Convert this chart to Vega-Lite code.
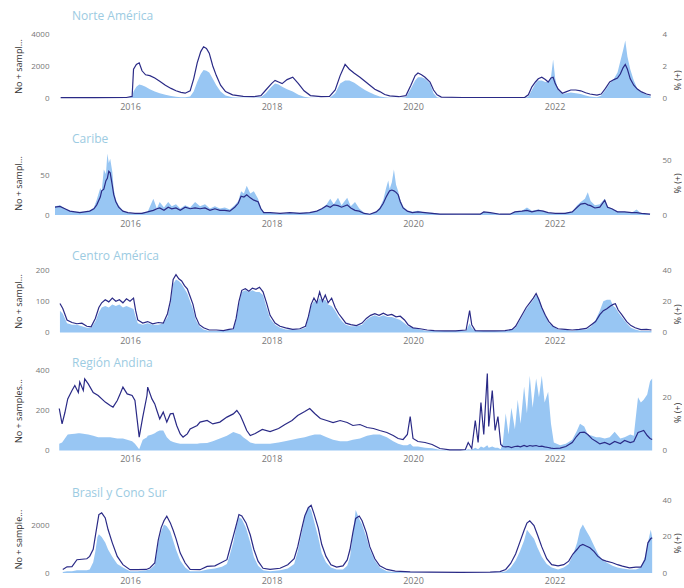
{
"$schema": "https://vega.github.io/schema/vega-lite/v6.json",
"background": "white",
"padding": {"left": 14, "top": 10, "right": 0, "bottom": 0},
"config": {"view": {"stroke": null}, "font": "Open Sans",
  "axis": {"grid": false, "ticks": false, "domain": false, "labelColor": "#777777", "labelFontSize": 8, "titleColor": "#333333", "titleFontSize": 9, "titleFontWeight": "normal"},
  "title": {"anchor": "start", "frame": "group", "color": "#9ccbe2", "fontSize": 12, "fontWeight": "normal", "dx": 17}},
"spacing": 30,
"bounds": "flush",
"data": {"values": [
{"r":"N","t":2015.02,"n":20,"p":0},{"r":"N","t":2015.5,"n":20,"p":0},{"r":"N","t":2015.95,"n":30,"p":0},{"r":"N","t":2016.03,"n":100,"p":0.05},{"r":"N","t":2016.05,"n":1800,"p":0.4},{"r":"N","t":2016.09,"n":2100,"p":0.7},{"r":"N","t":2016.13,"n":2200,"p":0.85},{"r":"N","t":2016.17,"n":1700,"p":0.8},{"r":"N","t":2016.22,"n":1450,"p":0.7},{"r":"N","t":2016.28,"n":1400,"p":0.55},{"r":"N","t":2016.35,"n":1250,"p":0.4},{"r":"N","t":2016.42,"n":1050,"p":0.3},{"r":"N","t":2016.5,"n":800,"p":0.2},{"r":"N","t":2016.58,"n":600,"p":0.12},{"r":"N","t":2016.65,"n":450,"p":0.08},{"r":"N","t":2016.72,"n":350,"p":0.05},{"r":"N","t":2016.78,"n":300,"p":0.05},{"r":"N","t":2016.85,"n":450,"p":0.1},{"r":"N","t":2016.9,"n":1200,"p":0.4},{"r":"N","t":2016.95,"n":2200,"p":1.0},{"r":"N","t":2017.0,"n":2900,"p":1.5},{"r":"N","t":2017.04,"n":3200,"p":1.75},{"r":"N","t":2017.08,"n":3100,"p":1.7},{"r":"N","t":2017.12,"n":2800,"p":1.6},{"r":"N","t":2017.17,"n":2000,"p":1.2},{"r":"N","t":2017.22,"n":1400,"p":0.8},{"r":"N","t":2017.28,"n":800,"p":0.4},{"r":"N","t":2017.35,"n":400,"p":0.15},{"r":"N","t":2017.45,"n":200,"p":0.05},{"r":"N","t":2017.6,"n":100,"p":0.02},{"r":"N","t":2017.75,"n":80,"p":0.02},{"r":"N","t":2017.85,"n":150,"p":0.05},{"r":"N","t":2017.92,"n":500,"p":0.3},{"r":"N","t":2018.0,"n":900,"p":0.7},{"r":"N","t":2018.05,"n":1100,"p":0.9},{"r":"N","t":2018.1,"n":1000,"p":0.85},{"r":"N","t":2018.15,"n":900,"p":0.7},{"r":"N","t":2018.22,"n":1150,"p":0.55},{"r":"N","t":2018.3,"n":1300,"p":0.4},{"r":"N","t":2018.38,"n":900,"p":0.2},{"r":"N","t":2018.46,"n":450,"p":0.08},{"r":"N","t":2018.55,"n":150,"p":0.02},{"r":"N","t":2018.7,"n":80,"p":0},{"r":"N","t":2018.82,"n":100,"p":0},{"r":"N","t":2018.9,"n":500,"p":0.3},{"r":"N","t":2018.97,"n":1400,"p":0.9},{"r":"N","t":2019.04,"n":2100,"p":1.1},{"r":"N","t":2019.1,"n":1800,"p":1.1},{"r":"N","t":2019.17,"n":1550,"p":0.95},{"r":"N","t":2019.25,"n":1300,"p":0.7},{"r":"N","t":2019.32,"n":1050,"p":0.5},{"r":"N","t":2019.39,"n":800,"p":0.35},{"r":"N","t":2019.46,"n":550,"p":0.2},{"r":"N","t":2019.53,"n":400,"p":0.1},{"r":"N","t":2019.6,"n":220,"p":0.04},{"r":"N","t":2019.67,"n":130,"p":0.02},{"r":"N","t":2019.8,"n":80,"p":0},{"r":"N","t":2019.9,"n":150,"p":0.05},{"r":"N","t":2019.97,"n":800,"p":0.6},{"r":"N","t":2020.03,"n":1400,"p":1.1},{"r":"N","t":2020.07,"n":1560,"p":1.3},{"r":"N","t":2020.12,"n":1450,"p":1.3},{"r":"N","t":2020.17,"n":1300,"p":1.2},{"r":"N","t":2020.24,"n":1000,"p":0.9},{"r":"N","t":2020.29,"n":500,"p":0.3},{"r":"N","t":2020.34,"n":200,"p":0.05},{"r":"N","t":2020.4,"n":60,"p":0},{"r":"N","t":2020.7,"n":30,"p":0},{"r":"N","t":2021.0,"n":30,"p":0},{"r":"N","t":2021.3,"n":30,"p":0},{"r":"N","t":2021.58,"n":40,"p":0},{"r":"N","t":2021.63,"n":200,"p":0.1},{"r":"N","t":2021.68,"n":700,"p":0.5},{"r":"N","t":2021.73,"n":1000,"p":0.9},{"r":"N","t":2021.77,"n":1200,"p":1.1},{"r":"N","t":2021.82,"n":1300,"p":1.1},{"r":"N","t":2021.87,"n":1150,"p":1.0},{"r":"N","t":2021.91,"n":1000,"p":1.0},{"r":"N","t":2021.95,"n":1250,"p":1.3},{"r":"N","t":2021.98,"n":1300,"p":2.4},{"r":"N","t":2022.01,"n":900,"p":1.2},{"r":"N","t":2022.05,"n":560,"p":0.5},{"r":"N","t":2022.11,"n":300,"p":0.25},{"r":"N","t":2022.17,"n":400,"p":0.3},{"r":"N","t":2022.23,"n":500,"p":0.35},{"r":"N","t":2022.3,"n":500,"p":0.3},{"r":"N","t":2022.37,"n":450,"p":0.25},{"r":"N","t":2022.44,"n":330,"p":0.15},{"r":"N","t":2022.5,"n":250,"p":0.1},{"r":"N","t":2022.6,"n":180,"p":0.05},{"r":"N","t":2022.66,"n":250,"p":0.15},{"r":"N","t":2022.72,"n":600,"p":0.5},{"r":"N","t":2022.78,"n":1000,"p":0.9},{"r":"N","t":2022.84,"n":1150,"p":1.2},{"r":"N","t":2022.89,"n":1250,"p":1.6},{"r":"N","t":2022.93,"n":1500,"p":2.3},{"r":"N","t":2022.97,"n":1900,"p":3.0},{"r":"N","t":2023.0,"n":2100,"p":3.6},{"r":"N","t":2023.03,"n":1800,"p":2.6},{"r":"N","t":2023.07,"n":1200,"p":1.8},{"r":"N","t":2023.12,"n":800,"p":1.1},{"r":"N","t":2023.17,"n":560,"p":0.6},{"r":"N","t":2023.23,"n":380,"p":0.35},{"r":"N","t":2023.3,"n":250,"p":0.2},{"r":"N","t":2023.36,"n":180,"p":0.1},
{"r":"C","t":2014.94,"n":10,"p":8},{"r":"C","t":2015.01,"n":11,"p":9},{"r":"C","t":2015.08,"n":8,"p":6},{"r":"C","t":2015.15,"n":5,"p":4},{"r":"C","t":2015.22,"n":4,"p":3},{"r":"C","t":2015.29,"n":3,"p":3},{"r":"C","t":2015.36,"n":4,"p":3},{"r":"C","t":2015.43,"n":5,"p":4},{"r":"C","t":2015.49,"n":8,"p":7},{"r":"C","t":2015.53,"n":13,"p":14},{"r":"C","t":2015.58,"n":23,"p":25},{"r":"C","t":2015.6,"n":31,"p":22},{"r":"C","t":2015.63,"n":33,"p":42},{"r":"C","t":2015.66,"n":44,"p":38},{"r":"C","t":2015.68,"n":47,"p":57},{"r":"C","t":2015.7,"n":56,"p":48},{"r":"C","t":2015.72,"n":54,"p":52},{"r":"C","t":2015.75,"n":38,"p":40},{"r":"C","t":2015.77,"n":26,"p":24},{"r":"C","t":2015.8,"n":17,"p":14},{"r":"C","t":2015.84,"n":10,"p":9},{"r":"C","t":2015.9,"n":5,"p":4},{"r":"C","t":2015.97,"n":3,"p":2},{"r":"C","t":2016.07,"n":2,"p":1},{"r":"C","t":2016.17,"n":2,"p":2},{"r":"C","t":2016.25,"n":4,"p":3},{"r":"C","t":2016.33,"n":6,"p":15},{"r":"C","t":2016.38,"n":8,"p":6},{"r":"C","t":2016.42,"n":9,"p":12},{"r":"C","t":2016.48,"n":6,"p":7},{"r":"C","t":2016.54,"n":10,"p":12},{"r":"C","t":2016.59,"n":8,"p":8},{"r":"C","t":2016.65,"n":9,"p":10},{"r":"C","t":2016.71,"n":6,"p":6},{"r":"C","t":2016.78,"n":10,"p":9},{"r":"C","t":2016.85,"n":8,"p":7},{"r":"C","t":2016.92,"n":9,"p":12},{"r":"C","t":2016.99,"n":8,"p":8},{"r":"C","t":2017.06,"n":9,"p":10},{"r":"C","t":2017.13,"n":6,"p":6},{"r":"C","t":2017.2,"n":8,"p":8},{"r":"C","t":2017.27,"n":6,"p":6},{"r":"C","t":2017.34,"n":6,"p":7},{"r":"C","t":2017.41,"n":5,"p":5},{"r":"C","t":2017.48,"n":10,"p":9},{"r":"C","t":2017.53,"n":15,"p":13},{"r":"C","t":2017.57,"n":24,"p":22},{"r":"C","t":2017.61,"n":23,"p":20},{"r":"C","t":2017.65,"n":26,"p":27},{"r":"C","t":2017.7,"n":22,"p":20},{"r":"C","t":2017.75,"n":19,"p":22},{"r":"C","t":2017.81,"n":17,"p":15},{"r":"C","t":2017.85,"n":8,"p":7},{"r":"C","t":2017.89,"n":3,"p":3},{"r":"C","t":2017.98,"n":3,"p":2},{"r":"C","t":2018.12,"n":2,"p":1},{"r":"C","t":2018.26,"n":3,"p":2},{"r":"C","t":2018.4,"n":2,"p":2},{"r":"C","t":2018.54,"n":3,"p":2},{"r":"C","t":2018.64,"n":5,"p":4},{"r":"C","t":2018.71,"n":8,"p":6},{"r":"C","t":2018.78,"n":12,"p":10},{"r":"C","t":2018.83,"n":10,"p":15},{"r":"C","t":2018.88,"n":13,"p":10},{"r":"C","t":2018.94,"n":12,"p":16},{"r":"C","t":2018.99,"n":10,"p":9},{"r":"C","t":2019.07,"n":13,"p":16},{"r":"C","t":2019.12,"n":9,"p":8},{"r":"C","t":2019.18,"n":6,"p":12},{"r":"C","t":2019.24,"n":5,"p":6},{"r":"C","t":2019.31,"n":2,"p":2},{"r":"C","t":2019.39,"n":1,"p":1},{"r":"C","t":2019.48,"n":4,"p":3},{"r":"C","t":2019.53,"n":8,"p":7},{"r":"C","t":2019.58,"n":15,"p":14},{"r":"C","t":2019.62,"n":23,"p":25},{"r":"C","t":2019.65,"n":28,"p":32},{"r":"C","t":2019.67,"n":31,"p":24},{"r":"C","t":2019.7,"n":32,"p":30},{"r":"C","t":2019.73,"n":31,"p":42},{"r":"C","t":2019.76,"n":29,"p":28},{"r":"C","t":2019.79,"n":26,"p":22},{"r":"C","t":2019.82,"n":17,"p":14},{"r":"C","t":2019.86,"n":9,"p":8},{"r":"C","t":2019.92,"n":5,"p":4},{"r":"C","t":2019.99,"n":3,"p":3},{"r":"C","t":2020.07,"n":4,"p":4},{"r":"C","t":2020.17,"n":3,"p":2},{"r":"C","t":2020.27,"n":2,"p":2},{"r":"C","t":2020.38,"n":1,"p":1},{"r":"C","t":2020.67,"n":1,"p":0.5},{"r":"C","t":2020.95,"n":1,"p":1},{"r":"C","t":2021.0,"n":4,"p":3},{"r":"C","t":2021.09,"n":3,"p":2},{"r":"C","t":2021.23,"n":1,"p":1},{"r":"C","t":2021.37,"n":1,"p":1},{"r":"C","t":2021.44,"n":4,"p":3},{"r":"C","t":2021.54,"n":5,"p":4},{"r":"C","t":2021.61,"n":6,"p":7},{"r":"C","t":2021.68,"n":4,"p":4},{"r":"C","t":2021.77,"n":6,"p":5},{"r":"C","t":2021.84,"n":5,"p":4},{"r":"C","t":2021.91,"n":3,"p":2},{"r":"C","t":2022.01,"n":2,"p":1},{"r":"C","t":2022.15,"n":2,"p":2},{"r":"C","t":2022.25,"n":4,"p":3},{"r":"C","t":2022.32,"n":10,"p":9},{"r":"C","t":2022.37,"n":14,"p":12},{"r":"C","t":2022.43,"n":15,"p":15},{"r":"C","t":2022.47,"n":13,"p":21},{"r":"C","t":2022.51,"n":12,"p":13},{"r":"C","t":2022.57,"n":9,"p":9},{"r":"C","t":2022.64,"n":10,"p":10},{"r":"C","t":2022.71,"n":19,"p":15},{"r":"C","t":2022.75,"n":10,"p":8},{"r":"C","t":2022.81,"n":8,"p":6},{"r":"C","t":2022.89,"n":4,"p":3},{"r":"C","t":2022.99,"n":4,"p":3},{"r":"C","t":2023.09,"n":3,"p":2},{"r":"C","t":2023.16,"n":3,"p":5},{"r":"C","t":2023.23,"n":2,"p":1},{"r":"C","t":2023.35,"n":1,"p":1},
{"r":"M","t":2015.01,"n":93,"p":14},{"r":"M","t":2015.05,"n":77,"p":12},{"r":"M","t":2015.11,"n":40,"p":6},{"r":"M","t":2015.18,"n":32,"p":5},{"r":"M","t":2015.25,"n":28,"p":5},{"r":"M","t":2015.32,"n":30,"p":4},{"r":"M","t":2015.39,"n":20,"p":3},{"r":"M","t":2015.45,"n":18,"p":3},{"r":"M","t":2015.51,"n":45,"p":7},{"r":"M","t":2015.56,"n":80,"p":13},{"r":"M","t":2015.6,"n":95,"p":16},{"r":"M","t":2015.65,"n":105,"p":17},{"r":"M","t":2015.7,"n":98,"p":16},{"r":"M","t":2015.75,"n":110,"p":18},{"r":"M","t":2015.8,"n":100,"p":17},{"r":"M","t":2015.85,"n":105,"p":18},{"r":"M","t":2015.9,"n":95,"p":16},{"r":"M","t":2015.95,"n":108,"p":17},{"r":"M","t":2016.0,"n":100,"p":16},{"r":"M","t":2016.05,"n":110,"p":15},{"r":"M","t":2016.08,"n":70,"p":10},{"r":"M","t":2016.11,"n":40,"p":6},{"r":"M","t":2016.18,"n":30,"p":5},{"r":"M","t":2016.25,"n":35,"p":6},{"r":"M","t":2016.32,"n":28,"p":5},{"r":"M","t":2016.4,"n":32,"p":5},{"r":"M","t":2016.47,"n":30,"p":6},{"r":"M","t":2016.53,"n":60,"p":10},{"r":"M","t":2016.57,"n":100,"p":18},{"r":"M","t":2016.61,"n":170,"p":31},{"r":"M","t":2016.65,"n":185,"p":34},{"r":"M","t":2016.69,"n":172,"p":33},{"r":"M","t":2016.73,"n":165,"p":31},{"r":"M","t":2016.77,"n":150,"p":28},{"r":"M","t":2016.81,"n":140,"p":25},{"r":"M","t":2016.85,"n":115,"p":20},{"r":"M","t":2016.89,"n":90,"p":15},{"r":"M","t":2016.93,"n":50,"p":8},{"r":"M","t":2016.98,"n":25,"p":4},{"r":"M","t":2017.04,"n":15,"p":2},{"r":"M","t":2017.12,"n":8,"p":1},{"r":"M","t":2017.22,"n":8,"p":1},{"r":"M","t":2017.32,"n":6,"p":1},{"r":"M","t":2017.4,"n":10,"p":2},{"r":"M","t":2017.46,"n":12,"p":2},{"r":"M","t":2017.5,"n":45,"p":8},{"r":"M","t":2017.54,"n":100,"p":18},{"r":"M","t":2017.58,"n":135,"p":26},{"r":"M","t":2017.63,"n":140,"p":27},{"r":"M","t":2017.68,"n":132,"p":26},{"r":"M","t":2017.73,"n":142,"p":27},{"r":"M","t":2017.78,"n":138,"p":26},{"r":"M","t":2017.83,"n":145,"p":26},{"r":"M","t":2017.88,"n":130,"p":24},{"r":"M","t":2017.93,"n":95,"p":16},{"r":"M","t":2017.98,"n":55,"p":9},{"r":"M","t":2018.05,"n":30,"p":5},{"r":"M","t":2018.12,"n":20,"p":3},{"r":"M","t":2018.2,"n":15,"p":2},{"r":"M","t":2018.3,"n":10,"p":2},{"r":"M","t":2018.4,"n":12,"p":2},{"r":"M","t":2018.48,"n":20,"p":3},{"r":"M","t":2018.52,"n":50,"p":9},{"r":"M","t":2018.56,"n":90,"p":17},{"r":"M","t":2018.6,"n":110,"p":20},{"r":"M","t":2018.64,"n":95,"p":19},{"r":"M","t":2018.68,"n":130,"p":22},{"r":"M","t":2018.72,"n":100,"p":20},{"r":"M","t":2018.76,"n":120,"p":21},{"r":"M","t":2018.8,"n":95,"p":18},{"r":"M","t":2018.85,"n":110,"p":17},{"r":"M","t":2018.9,"n":80,"p":14},{"r":"M","t":2018.95,"n":60,"p":10},{"r":"M","t":2019.0,"n":45,"p":7},{"r":"M","t":2019.05,"n":30,"p":5},{"r":"M","t":2019.12,"n":25,"p":4},{"r":"M","t":2019.2,"n":22,"p":4},{"r":"M","t":2019.28,"n":30,"p":5},{"r":"M","t":2019.34,"n":45,"p":8},{"r":"M","t":2019.4,"n":55,"p":10},{"r":"M","t":2019.46,"n":60,"p":11},{"r":"M","t":2019.52,"n":55,"p":10},{"r":"M","t":2019.58,"n":62,"p":11},{"r":"M","t":2019.64,"n":55,"p":10},{"r":"M","t":2019.7,"n":58,"p":10},{"r":"M","t":2019.76,"n":50,"p":9},{"r":"M","t":2019.82,"n":52,"p":8},{"r":"M","t":2019.88,"n":40,"p":6},{"r":"M","t":2019.93,"n":25,"p":4},{"r":"M","t":2020.0,"n":15,"p":3},{"r":"M","t":2020.1,"n":12,"p":2},{"r":"M","t":2020.2,"n":8,"p":1},{"r":"M","t":2020.3,"n":6,"p":1},{"r":"M","t":2020.45,"n":5,"p":1},{"r":"M","t":2020.6,"n":5,"p":1},{"r":"M","t":2020.75,"n":8,"p":1},{"r":"M","t":2020.8,"n":70,"p":6},{"r":"M","t":2020.83,"n":25,"p":3},{"r":"M","t":2020.88,"n":6,"p":1},{"r":"M","t":2021.0,"n":5,"p":1},{"r":"M","t":2021.15,"n":5,"p":1},{"r":"M","t":2021.3,"n":6,"p":1},{"r":"M","t":2021.4,"n":10,"p":2},{"r":"M","t":2021.45,"n":20,"p":3},{"r":"M","t":2021.5,"n":40,"p":7},{"r":"M","t":2021.55,"n":60,"p":11},{"r":"M","t":2021.6,"n":80,"p":15},{"r":"M","t":2021.65,"n":95,"p":18},{"r":"M","t":2021.7,"n":110,"p":21},{"r":"M","t":2021.74,"n":125,"p":24},{"r":"M","t":2021.78,"n":105,"p":22},{"r":"M","t":2021.82,"n":80,"p":16},{"r":"M","t":2021.87,"n":55,"p":11},{"r":"M","t":2021.92,"n":35,"p":6},{"r":"M","t":2021.98,"n":20,"p":4},{"r":"M","t":2022.05,"n":12,"p":2},{"r":"M","t":2022.15,"n":10,"p":2},{"r":"M","t":2022.25,"n":8,"p":1},{"r":"M","t":2022.35,"n":10,"p":2},{"r":"M","t":2022.45,"n":13,"p":2},{"r":"M","t":2022.52,"n":25,"p":4},{"r":"M","t":2022.58,"n":35,"p":8},{"r":"M","t":2022.64,"n":57,"p":14},{"r":"M","t":2022.69,"n":70,"p":20},{"r":"M","t":2022.74,"n":76,"p":21},{"r":"M","t":2022.79,"n":85,"p":21},{"r":"M","t":2022.83,"n":90,"p":17},{"r":"M","t":2022.86,"n":92,"p":16},{"r":"M","t":2022.9,"n":72,"p":13},{"r":"M","t":2022.95,"n":57,"p":10},{"r":"M","t":2023.02,"n":35,"p":6},{"r":"M","t":2023.08,"n":22,"p":3},{"r":"M","t":2023.14,"n":15,"p":2},{"r":"M","t":2023.22,"n":9,"p":1},{"r":"M","t":2023.3,"n":10,"p":1},{"r":"M","t":2023.37,"n":8,"p":1},
{"r":"A","t":2015.0,"n":210,"p":2.5},{"r":"A","t":2015.04,"n":133,"p":3},{"r":"A","t":2015.08,"n":190,"p":4.5},{"r":"A","t":2015.12,"n":258,"p":6},{"r":"A","t":2015.18,"n":300,"p":6.2},{"r":"A","t":2015.22,"n":325,"p":6.3},{"r":"A","t":2015.27,"n":290,"p":6.5},{"r":"A","t":2015.29,"n":342,"p":6.5},{"r":"A","t":2015.34,"n":300,"p":6.3},{"r":"A","t":2015.36,"n":358,"p":6.2},{"r":"A","t":2015.41,"n":333,"p":6},{"r":"A","t":2015.48,"n":290,"p":5.5},{"r":"A","t":2015.55,"n":275,"p":5},{"r":"A","t":2015.65,"n":242,"p":5},{"r":"A","t":2015.72,"n":225,"p":5},{"r":"A","t":2015.76,"n":217,"p":4.8},{"r":"A","t":2015.82,"n":250,"p":4.5},{"r":"A","t":2015.86,"n":283,"p":4.5},{"r":"A","t":2015.9,"n":317,"p":4.5},{"r":"A","t":2015.96,"n":283,"p":4},{"r":"A","t":2016.03,"n":275,"p":3.5},{"r":"A","t":2016.07,"n":250,"p":2.5},{"r":"A","t":2016.1,"n":158,"p":1.5},{"r":"A","t":2016.13,"n":67,"p":0.5},{"r":"A","t":2016.18,"n":167,"p":4},{"r":"A","t":2016.24,"n":275,"p":5},{"r":"A","t":2016.25,"n":317,"p":5.5},{"r":"A","t":2016.31,"n":258,"p":6},{"r":"A","t":2016.35,"n":233,"p":6.5},{"r":"A","t":2016.38,"n":200,"p":7},{"r":"A","t":2016.42,"n":158,"p":7.5},{"r":"A","t":2016.47,"n":192,"p":7.5},{"r":"A","t":2016.52,"n":142,"p":5},{"r":"A","t":2016.57,"n":183,"p":3.7},{"r":"A","t":2016.61,"n":185,"p":3.2},{"r":"A","t":2016.66,"n":125,"p":2.8},{"r":"A","t":2016.71,"n":83,"p":2.5},{"r":"A","t":2016.75,"n":67,"p":2.5},{"r":"A","t":2016.81,"n":83,"p":2.5},{"r":"A","t":2016.85,"n":108,"p":2.5},{"r":"A","t":2016.95,"n":125,"p":2.5},{"r":"A","t":2016.99,"n":142,"p":2.7},{"r":"A","t":2017.09,"n":150,"p":2.8},{"r":"A","t":2017.17,"n":133,"p":3.5},{"r":"A","t":2017.27,"n":142,"p":4.5},{"r":"A","t":2017.37,"n":167,"p":5.5},{"r":"A","t":2017.46,"n":183,"p":6.9},{"r":"A","t":2017.51,"n":200,"p":6.5},{"r":"A","t":2017.56,"n":175,"p":6},{"r":"A","t":2017.6,"n":142,"p":5},{"r":"A","t":2017.65,"n":100,"p":4},{"r":"A","t":2017.7,"n":75,"p":3},{"r":"A","t":2017.77,"n":85,"p":2.5},{"r":"A","t":2017.87,"n":105,"p":2.5},{"r":"A","t":2017.98,"n":95,"p":2.5},{"r":"A","t":2018.1,"n":110,"p":3},{"r":"A","t":2018.19,"n":130,"p":3.5},{"r":"A","t":2018.29,"n":150,"p":4},{"r":"A","t":2018.37,"n":175,"p":4.5},{"r":"A","t":2018.47,"n":195,"p":5},{"r":"A","t":2018.54,"n":210,"p":5.5},{"r":"A","t":2018.61,"n":185,"p":6},{"r":"A","t":2018.69,"n":160,"p":6},{"r":"A","t":2018.78,"n":150,"p":5},{"r":"A","t":2018.87,"n":140,"p":4},{"r":"A","t":2018.97,"n":150,"p":3.5},{"r":"A","t":2019.07,"n":140,"p":3.5},{"r":"A","t":2019.15,"n":125,"p":4},{"r":"A","t":2019.25,"n":130,"p":4.5},{"r":"A","t":2019.35,"n":115,"p":5.5},{"r":"A","t":2019.44,"n":110,"p":6},{"r":"A","t":2019.53,"n":100,"p":6},{"r":"A","t":2019.63,"n":90,"p":5},{"r":"A","t":2019.72,"n":75,"p":3.5},{"r":"A","t":2019.79,"n":60,"p":2.5},{"r":"A","t":2019.86,"n":55,"p":2},{"r":"A","t":2019.92,"n":80,"p":2},{"r":"A","t":2019.96,"n":170,"p":2.5},{"r":"A","t":2020.0,"n":60,"p":1.5},{"r":"A","t":2020.07,"n":45,"p":1.5},{"r":"A","t":2020.17,"n":40,"p":1},{"r":"A","t":2020.27,"n":30,"p":0.8},{"r":"A","t":2020.38,"n":10,"p":0.3},{"r":"A","t":2020.52,"n":3,"p":0.1},{"r":"A","t":2020.67,"n":3,"p":0.1},{"r":"A","t":2020.74,"n":5,"p":0.2},{"r":"A","t":2020.78,"n":40,"p":0.5},{"r":"A","t":2020.83,"n":10,"p":0.3},{"r":"A","t":2020.88,"n":150,"p":1},{"r":"A","t":2020.92,"n":40,"p":0.5},{"r":"A","t":2020.96,"n":240,"p":1.5},{"r":"A","t":2021.0,"n":80,"p":1},{"r":"A","t":2021.05,"n":385,"p":2},{"r":"A","t":2021.07,"n":120,"p":1},{"r":"A","t":2021.12,"n":300,"p":1.5},{"r":"A","t":2021.16,"n":100,"p":1},{"r":"A","t":2021.2,"n":170,"p":1},{"r":"A","t":2021.24,"n":30,"p":0.5},{"r":"A","t":2021.27,"n":20,"p":3},{"r":"A","t":2021.31,"n":18,"p":14},{"r":"A","t":2021.35,"n":20,"p":6},{"r":"A","t":2021.39,"n":15,"p":16},{"r":"A","t":2021.44,"n":20,"p":8},{"r":"A","t":2021.48,"n":22,"p":19},{"r":"A","t":2021.52,"n":18,"p":10},{"r":"A","t":2021.57,"n":25,"p":24},{"r":"A","t":2021.61,"n":20,"p":14},{"r":"A","t":2021.65,"n":25,"p":28},{"r":"A","t":2021.69,"n":22,"p":16},{"r":"A","t":2021.74,"n":25,"p":27},{"r":"A","t":2021.78,"n":20,"p":20},{"r":"A","t":2021.82,"n":22,"p":28},{"r":"A","t":2021.86,"n":18,"p":18},{"r":"A","t":2021.91,"n":15,"p":22},{"r":"A","t":2021.95,"n":12,"p":10},{"r":"A","t":2021.99,"n":10,"p":3},{"r":"A","t":2022.08,"n":12,"p":2},{"r":"A","t":2022.16,"n":20,"p":2.5},{"r":"A","t":2022.25,"n":40,"p":4},{"r":"A","t":2022.31,"n":70,"p":7},{"r":"A","t":2022.36,"n":90,"p":10},{"r":"A","t":2022.42,"n":92,"p":9},{"r":"A","t":2022.47,"n":80,"p":6},{"r":"A","t":2022.53,"n":58,"p":5.5},{"r":"A","t":2022.59,"n":45,"p":5},{"r":"A","t":2022.64,"n":33,"p":5},{"r":"A","t":2022.71,"n":40,"p":4.5},{"r":"A","t":2022.78,"n":30,"p":5},{"r":"A","t":2022.85,"n":45,"p":7},{"r":"A","t":2022.93,"n":35,"p":4.5},{"r":"A","t":2022.99,"n":50,"p":5},{"r":"A","t":2023.07,"n":40,"p":6},{"r":"A","t":2023.12,"n":45,"p":5.5},{"r":"A","t":2023.18,"n":90,"p":20},{"r":"A","t":2023.22,"n":95,"p":18},{"r":"A","t":2023.26,"n":100,"p":19},{"r":"A","t":2023.31,"n":75,"p":21},{"r":"A","t":2023.35,"n":60,"p":26},{"r":"A","t":2023.38,"n":55,"p":27},
{"r":"B","t":2015.05,"n":150,"p":0.5},{"r":"B","t":2015.11,"n":260,"p":1},{"r":"B","t":2015.18,"n":270,"p":1},{"r":"B","t":2015.25,"n":560,"p":1.5},{"r":"B","t":2015.32,"n":580,"p":1.5},{"r":"B","t":2015.39,"n":600,"p":1.5},{"r":"B","t":2015.43,"n":700,"p":2},{"r":"B","t":2015.48,"n":1000,"p":6},{"r":"B","t":2015.51,"n":1550,"p":12},{"r":"B","t":2015.54,"n":2100,"p":20},{"r":"B","t":2015.56,"n":2460,"p":21.5},{"r":"B","t":2015.6,"n":2530,"p":20},{"r":"B","t":2015.65,"n":2320,"p":17},{"r":"B","t":2015.69,"n":1830,"p":13},{"r":"B","t":2015.75,"n":1270,"p":9},{"r":"B","t":2015.82,"n":700,"p":5},{"r":"B","t":2015.9,"n":350,"p":3},{"r":"B","t":2016.0,"n":140,"p":1},{"r":"B","t":2016.11,"n":140,"p":1},{"r":"B","t":2016.23,"n":150,"p":1.5},{"r":"B","t":2016.28,"n":210,"p":2},{"r":"B","t":2016.35,"n":420,"p":4.5},{"r":"B","t":2016.4,"n":1400,"p":17},{"r":"B","t":2016.44,"n":1900,"p":23},{"r":"B","t":2016.48,"n":2200,"p":27},{"r":"B","t":2016.52,"n":2390,"p":26},{"r":"B","t":2016.57,"n":2110,"p":23},{"r":"B","t":2016.61,"n":1800,"p":18},{"r":"B","t":2016.65,"n":1450,"p":13},{"r":"B","t":2016.71,"n":840,"p":7},{"r":"B","t":2016.78,"n":420,"p":3},{"r":"B","t":2016.85,"n":150,"p":1},{"r":"B","t":2016.99,"n":140,"p":1},{"r":"B","t":2017.09,"n":280,"p":2},{"r":"B","t":2017.2,"n":300,"p":2.5},{"r":"B","t":2017.3,"n":450,"p":3.5},{"r":"B","t":2017.37,"n":560,"p":5},{"r":"B","t":2017.41,"n":1000,"p":10},{"r":"B","t":2017.46,"n":1550,"p":17},{"r":"B","t":2017.5,"n":2000,"p":25},{"r":"B","t":2017.54,"n":2460,"p":31},{"r":"B","t":2017.58,"n":2400,"p":30},{"r":"B","t":2017.64,"n":2110,"p":25},{"r":"B","t":2017.7,"n":1600,"p":17},{"r":"B","t":2017.75,"n":1000,"p":9},{"r":"B","t":2017.81,"n":500,"p":4},{"r":"B","t":2017.88,"n":200,"p":1.5},{"r":"B","t":2017.98,"n":150,"p":1},{"r":"B","t":2018.12,"n":200,"p":1.5},{"r":"B","t":2018.23,"n":350,"p":2.5},{"r":"B","t":2018.32,"n":600,"p":5},{"r":"B","t":2018.37,"n":1100,"p":12},{"r":"B","t":2018.43,"n":1900,"p":23},{"r":"B","t":2018.47,"n":2400,"p":31},{"r":"B","t":2018.52,"n":2750,"p":37},{"r":"B","t":2018.56,"n":2850,"p":35},{"r":"B","t":2018.6,"n":2500,"p":29},{"r":"B","t":2018.66,"n":1900,"p":20},{"r":"B","t":2018.71,"n":1200,"p":11},{"r":"B","t":2018.77,"n":700,"p":6},{"r":"B","t":2018.84,"n":350,"p":3},{"r":"B","t":2018.92,"n":250,"p":2},{"r":"B","t":2019.01,"n":300,"p":2},{"r":"B","t":2019.07,"n":550,"p":4},{"r":"B","t":2019.11,"n":1000,"p":9},{"r":"B","t":2019.15,"n":1700,"p":22},{"r":"B","t":2019.19,"n":2300,"p":35},{"r":"B","t":2019.24,"n":2400,"p":30},{"r":"B","t":2019.28,"n":2200,"p":27},{"r":"B","t":2019.34,"n":1700,"p":20},{"r":"B","t":2019.39,"n":1100,"p":13},{"r":"B","t":2019.46,"n":600,"p":7},{"r":"B","t":2019.53,"n":300,"p":3},{"r":"B","t":2019.63,"n":150,"p":1},{"r":"B","t":2019.75,"n":80,"p":0.5},{"r":"B","t":2019.96,"n":50,"p":0.3},{"r":"B","t":2020.24,"n":40,"p":0.2},{"r":"B","t":2020.67,"n":30,"p":0.1},{"r":"B","t":2021.09,"n":40,"p":0.2},{"r":"B","t":2021.23,"n":60,"p":0.3},{"r":"B","t":2021.31,"n":150,"p":1},{"r":"B","t":2021.38,"n":400,"p":3},{"r":"B","t":2021.45,"n":800,"p":7},{"r":"B","t":2021.51,"n":1300,"p":12},{"r":"B","t":2021.57,"n":1800,"p":18},{"r":"B","t":2021.61,"n":2100,"p":24},{"r":"B","t":2021.65,"n":2200,"p":22},{"r":"B","t":2021.71,"n":2000,"p":19},{"r":"B","t":2021.76,"n":1600,"p":14},{"r":"B","t":2021.82,"n":1100,"p":9},{"r":"B","t":2021.89,"n":600,"p":5},{"r":"B","t":2021.96,"n":350,"p":3},{"r":"B","t":2022.05,"n":300,"p":2},{"r":"B","t":2022.13,"n":350,"p":3},{"r":"B","t":2022.2,"n":500,"p":5},{"r":"B","t":2022.26,"n":800,"p":10},{"r":"B","t":2022.32,"n":1000,"p":17},{"r":"B","t":2022.36,"n":1150,"p":24},{"r":"B","t":2022.4,"n":1200,"p":27},{"r":"B","t":2022.44,"n":1150,"p":24},{"r":"B","t":2022.5,"n":1060,"p":20},{"r":"B","t":2022.56,"n":900,"p":15},{"r":"B","t":2022.61,"n":710,"p":11},{"r":"B","t":2022.68,"n":550,"p":7},{"r":"B","t":2022.73,"n":500,"p":6},{"r":"B","t":2022.82,"n":430,"p":4},{"r":"B","t":2022.89,"n":350,"p":3},{"r":"B","t":2022.96,"n":290,"p":2.5},{"r":"B","t":2023.06,"n":220,"p":2},{"r":"B","t":2023.15,"n":250,"p":2},{"r":"B","t":2023.22,"n":250,"p":3},{"r":"B","t":2023.28,"n":570,"p":9},{"r":"B","t":2023.32,"n":1270,"p":17},{"r":"B","t":2023.36,"n":1450,"p":24},{"r":"B","t":2023.38,"n":1480,"p":20}
]},
"vconcat": [
{"title": {"text": "Norte América", "offset": 7}, "width": 600, "height": 64,
 "transform": [{"filter": "datum.r === 'N'"}],
 "layer": [
  {"mark": {"type": "area", "color": "#98c6f3"}, "encoding": {
    "x": {"field": "t", "type": "quantitative", "scale": {"domain": [2014.94, 2023.42], "nice": false, "zero": false}, "axis": {"values": [2016, 2018, 2020, 2022], "format": "d", "title": null, "labelPadding": 4, "labelFontSize": 9}},
    "y": {"field": "p", "type": "quantitative", "scale": {"domain": [0, 4], "nice": false}, "axis": {"orient": "right", "values": [0, 2, 4], "format": "d", "title": "% (+)", "titleAngle": 270, "titleBaseline": "middle", "titleAlign": "center", "titleX": 22, "titleY": 46, "labelPadding": 7}}}},
  {"mark": {"type": "line", "color": "#2a2a86", "strokeWidth": 1.2}, "encoding": {
    "x": {"field": "t", "type": "quantitative"},
    "y": {"field": "n", "type": "quantitative", "scale": {"domain": [0, 4000], "nice": false}, "axis": {"orient": "left", "values": [0, 2000, 4000], "format": "d", "title": "No + sampl...", "titleAngle": 270, "titleBaseline": "middle", "titleAlign": "center", "titleX": -36.5, "titleY": 32, "labelPadding": 6}}}}
 ],
 "resolve": {"scale": {"y": "independent"}}},
{"title": {"text": "Caribe", "offset": -18}, "width": 600, "height": 87,
 "transform": [{"filter": "datum.r === 'C'"}],
 "layer": [
  {"mark": {"type": "area", "color": "#98c6f3"}, "encoding": {
    "x": {"field": "t", "type": "quantitative", "scale": {"domain": [2014.94, 2023.42], "nice": false, "zero": false}, "axis": {"values": [2016, 2018, 2020, 2022], "format": "d", "title": null, "labelPadding": 4, "labelFontSize": 9}},
    "y": {"field": "p", "type": "quantitative", "scale": {"domain": [0, 80.5], "nice": false}, "axis": {"orient": "right", "values": [0, 50], "format": "d", "title": "% (+)", "titleAngle": 270, "titleBaseline": "middle", "titleAlign": "center", "titleX": 22, "titleY": 55, "labelPadding": 7}}}},
  {"mark": {"type": "line", "color": "#2a2a86", "strokeWidth": 1.2}, "encoding": {
    "x": {"field": "t", "type": "quantitative"},
    "y": {"field": "n", "type": "quantitative", "scale": {"domain": [0, 111.5], "nice": false}, "axis": {"orient": "left", "values": [0, 50], "format": "d", "title": "No + sampl...", "titleAngle": 270, "titleBaseline": "middle", "titleAlign": "center", "titleX": -36.5, "titleY": 55, "labelPadding": 6}}}}
 ],
 "resolve": {"scale": {"y": "independent"}}},
{"title": {"text": "Centro América", "offset": -18}, "width": 600, "height": 87.5,
 "transform": [{"filter": "datum.r === 'M'"}],
 "layer": [
  {"mark": {"type": "area", "color": "#98c6f3"}, "encoding": {
    "x": {"field": "t", "type": "quantitative", "scale": {"domain": [2014.94, 2023.42], "nice": false, "zero": false}, "axis": {"values": [2016, 2018, 2020, 2022], "format": "d", "title": null, "labelPadding": 4, "labelFontSize": 9}},
    "y": {"field": "p", "type": "quantitative", "scale": {"domain": [0, 56], "nice": false}, "axis": {"orient": "right", "values": [0, 20, 40], "format": "d", "title": "% (+)", "titleAngle": 270, "titleBaseline": "middle", "titleAlign": "center", "titleX": 22, "titleY": 69, "labelPadding": 7}}}},
  {"mark": {"type": "line", "color": "#2a2a86", "strokeWidth": 1.2}, "encoding": {
    "x": {"field": "t", "type": "quantitative"},
    "y": {"field": "n", "type": "quantitative", "scale": {"domain": [0, 280], "nice": false}, "axis": {"orient": "left", "values": [0, 100, 200], "format": "d", "title": "No + sampl...", "titleAngle": 270, "titleBaseline": "middle", "titleAlign": "center", "titleX": -36.5, "titleY": 56, "labelPadding": 6}}}}
 ],
 "resolve": {"scale": {"y": "independent"}}},
{"title": {"text": "Región Andina", "offset": -7}, "width": 600, "height": 87.5,
 "transform": [{"filter": "datum.r === 'A'"}],
 "layer": [
  {"mark": {"type": "area", "color": "#98c6f3"}, "encoding": {
    "x": {"field": "t", "type": "quantitative", "scale": {"domain": [2014.94, 2023.42], "nice": false, "zero": false}, "axis": {"values": [2016, 2018, 2020, 2022], "format": "d", "title": null, "labelPadding": 4, "labelFontSize": 9}},
    "y": {"field": "p", "type": "quantitative", "scale": {"domain": [0, 32.8], "nice": false}, "axis": {"orient": "right", "values": [0, 20], "format": "d", "title": "% (+)", "titleAngle": 270, "titleBaseline": "middle", "titleAlign": "center", "titleX": 22, "titleY": 49.5, "labelPadding": 7}}}},
  {"mark": {"type": "line", "color": "#2a2a86", "strokeWidth": 1.2}, "encoding": {
    "x": {"field": "t", "type": "quantitative"},
    "y": {"field": "n", "type": "quantitative", "scale": {"domain": [0, 437.5], "nice": false}, "axis": {"orient": "left", "values": [0, 200, 400], "format": "d", "title": "No + samples...", "titleAngle": 270, "titleBaseline": "middle", "titleAlign": "center", "titleX": -36.5, "titleY": 47.5, "labelPadding": 6}}}}
 ],
 "resolve": {"scale": {"y": "independent"}}},
{"title": {"text": "Brasil y Cono Sur", "offset": -19}, "width": 600, "height": 92,
 "transform": [{"filter": "datum.r === 'B'"}],
 "layer": [
  {"mark": {"type": "area", "color": "#98c6f3"}, "encoding": {
    "x": {"field": "t", "type": "quantitative", "scale": {"domain": [2014.94, 2023.42], "nice": false, "zero": false}, "axis": {"values": [2016, 2018, 2020, 2022], "format": "d", "title": null, "labelPadding": 3, "labelFontSize": 9}},
    "y": {"field": "p", "type": "quantitative", "scale": {"domain": [0, 51.1], "nice": false}, "axis": {"orient": "right", "values": [0, 20, 40], "format": "d", "title": "% (+)", "titleAngle": 270, "titleBaseline": "middle", "titleAlign": "center", "titleX": 22, "titleY": 62, "labelPadding": 7}}}},
  {"mark": {"type": "line", "color": "#2a2a86", "strokeWidth": 1.2}, "encoding": {
    "x": {"field": "t", "type": "quantitative"},
    "y": {"field": "n", "type": "quantitative", "scale": {"domain": [0, 3874], "nice": false}, "axis": {"orient": "left", "values": [0, 2000], "format": "d", "title": "No + sample...", "titleAngle": 270, "titleBaseline": "middle", "titleAlign": "center", "titleX": -36.5, "titleY": 58, "labelPadding": 6}}}}
 ],
 "resolve": {"scale": {"y": "independent"}}}
]
}
